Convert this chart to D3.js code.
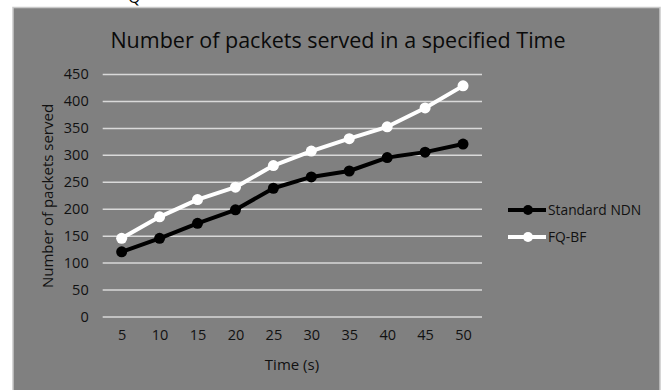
<!DOCTYPE html>
<html><head><meta charset="utf-8">
<script src="https://cdn.jsdelivr.net/npm/d3@7"></script>
<style>body{margin:0;background:#fff}svg{display:block}text{font-family:"Open Sans",sans-serif}</style>
</head><body>
<script>
const categories = [5,10,15,20,25,30,35,40,45,50];
const standardNDN = [120,145,173,198,238,259,270,295,305,320];
const fqbf = [145,185,217,240,280,307,330,352,387,428];
const yTicks = [0,50,100,150,200,250,300,350,400,450];
const seriesNames = ["Standard NDN","FQ-BF"];

const W=662,H=390;
const svg=d3.select("body").append("svg").attr("width",W).attr("height",H);
svg.append("text").attr("x",128).attr("y",3).attr("font-size",16).attr("fill","#000").text("Q");
svg.append("rect").attr("x",13).attr("y",7.5).attr("width",647).attr("height",390).attr("fill","#808080").attr("stroke","#c9c9c9").attr("stroke-width",1.5);

const x=d3.scalePoint().domain(categories).range([102.7,482]).padding(0.5);
const y=d3.scaleLinear().domain([0,450]).range([316.5,74]);

const tc="#111";
const gy=svg.append("g").attr("transform","translate(102.7,0)")
 .call(d3.axisLeft(y).tickValues(yTicks).tickSize(-(482-102.7)).tickPadding(14));
gy.select(".domain").remove();
gy.selectAll(".tick line").attr("stroke","#d9d9d9").attr("stroke-width",1.5);
gy.selectAll(".tick text").attr("font-size",14.5).attr("fill",tc).attr("font-family","Open Sans");

const gx=svg.append("g").attr("transform","translate(0,316.5)")
 .call(d3.axisBottom(x).tickSize(0).tickPadding(13));
gx.select(".domain").remove();
gx.selectAll(".tick text").attr("font-size",14.5).attr("fill",tc).attr("font-family","Open Sans");

svg.append("text").attr("x",338).attr("y",48).attr("text-anchor","middle").attr("font-size",21.5).attr("fill","#0a0a0a").text("Number of packets served in a specified Time");
svg.append("text").attr("x",292).attr("y",370).attr("text-anchor","middle").attr("font-size",15).attr("fill",tc).text("Time (s)");
svg.append("text").attr("transform","translate(53,196) rotate(-90)").attr("text-anchor","middle").attr("font-size",15).attr("fill",tc).text("Number of packets served");

const series=[{name:seriesNames[0],vals:standardNDN,color:"#000"},{name:seriesNames[1],vals:fqbf,color:"#fff"}];
const line=d3.line().x((d,i)=>x(categories[i])).y(d=>y(d));
series.forEach(s=>{
  svg.append("path").datum(s.vals).attr("d",line).attr("fill","none").attr("stroke",s.color).attr("stroke-width",4).attr("stroke-linejoin","round");
  svg.selectAll(null).data(s.vals).enter().append("circle").attr("cx",(d,i)=>x(categories[i])).attr("cy",d=>y(d)).attr("r",5.5).attr("fill",s.color);
});
series.forEach((s,i)=>{
  const ly=210+i*27;
  svg.append("line").attr("x1",508).attr("x2",546).attr("y1",ly).attr("y2",ly).attr("stroke",s.color).attr("stroke-width",4);
  svg.append("circle").attr("cx",528).attr("cy",ly).attr("r",5).attr("fill",s.color);
  svg.append("text").attr("x",548).attr("y",ly+5).attr("font-size",13.8).attr("fill",tc).text(s.name);
});
</script></body></html>
